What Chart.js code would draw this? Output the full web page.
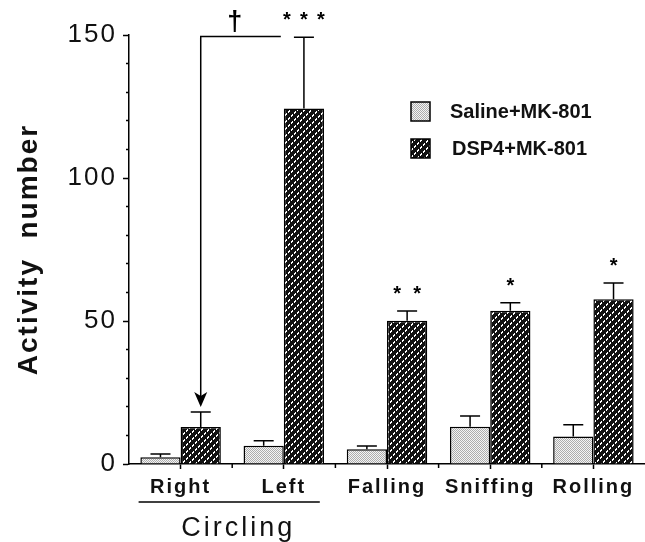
<!DOCTYPE html>
<html>
<head>
<meta charset="utf-8">
<script src="https://cdn.jsdelivr.net/npm/chart.js@4/dist/chart.umd.min.js"></script>
<style>
html,body{margin:0;padding:0;background:#fff;}
#wrap{width:645px;height:542px;position:relative;}
</style>
</head>
<body>
<div id="wrap"><canvas id="c" width="645" height="542"></canvas></div>
<script>
const categories = ['Right', 'Left', 'Falling', 'Sniffing', 'Rolling'];
const groupLabel = 'Circling';
const seriesNames = ['Saline+MK-801', 'DSP4+MK-801'];
const salineValues = [2.4, 6.4, 5.2, 13.0, 9.6];
const salineErrors = [1.1, 1.7, 1.1, 3.8, 4.1];
const dsp4Values = [12.9, 124.3, 50.1, 53.6, 57.6];
const dsp4Errors = [5.3, 24.9, 3.4, 2.8, 5.7];
const yTickLabels = [0, 50, 100, 150];
const significance = ['', '***', '**', '*', '*'];
const bracketSymbol = '\u2020';
const bracketLevel = 149.5;
const yTitle = 'Activity  number';

const FONT = '"Liberation Sans", Arial, Helvetica, sans-serif';

function makeStipple() {
  const c = document.createElement('canvas');
  c.width = c.height = 4;
  const g = c.getContext('2d');
  for (let i = 0; i < 4; i++) for (let j = 0; j < 4; j++) {
    g.fillStyle = ((i + j) % 2 === 0) ? '#acacac' : '#f4f4f4';
    g.fillRect(i, j, 1, 1);
  }
  return g.createPattern(c, 'repeat');
}
function makeHatch() {
  const s = 21;
  const c = document.createElement('canvas');
  c.width = c.height = s;
  const g = c.getContext('2d');
  g.fillStyle = '#111';
  g.fillRect(0, 0, s, s);
  g.fillStyle = '#fff';
  for (let i = 0; i < s; i++) for (let j = 0; j < s; j++) {
    const d = (i + j) % 7;
    if ((d === 0 || d === 1) && (i % 3 !== 2)) g.fillRect(i, j, 1, 1);
  }
  return g.createPattern(c, 'repeat');
}
const stipple = makeStipple();
const hatch = makeHatch();

const spacingPlugin = {
  id: 'spacing',
  beforeDraw(chart) { chart.ctx.letterSpacing = '2px'; }
};

const annotPlugin = {
  id: 'annot',
  afterDraw(chart) {
    const ctx = chart.ctx;
    const ys = chart.scales.y, xs = chart.scales.x;
    const m0 = chart.getDatasetMeta(0), m1 = chart.getDatasetMeta(1);
    const bottom = chart.chartArea.bottom;
    ctx.save();
    ctx.letterSpacing = '0px';
    ctx.strokeStyle = '#000';
    ctx.fillStyle = '#000';
    ctx.lineWidth = 1.5;
    ctx.lineCap = 'butt';

    // error bars (upper only)
    [[m0, salineValues, salineErrors], [m1, dsp4Values, dsp4Errors]].forEach(([m, vals, errs]) => {
      m.data.forEach((bar, i) => {
        const top = ys.getPixelForValue(vals[i]);
        const et = ys.getPixelForValue(vals[i] + errs[i]);
        ctx.beginPath();
        ctx.moveTo(bar.x, top);
        ctx.lineTo(bar.x, et);
        ctx.moveTo(bar.x - 10, et);
        ctx.lineTo(bar.x + 10, et);
        ctx.stroke();
      });
    });

    // small ticks between categories
    for (let i = 0; i < categories.length - 1; i++) {
      const xm = (xs.getPixelForValue(i) + xs.getPixelForValue(i + 1)) / 2;
      ctx.beginPath();
      ctx.moveTo(xm, bottom);
      ctx.lineTo(xm, bottom + 4);
      ctx.stroke();
    }

    // significance stars
    ctx.font = 'bold 20px ' + FONT;
    ctx.textAlign = 'center';
    ctx.textBaseline = 'alphabetic';
    significance.forEach((s, i) => {
      if (!s) return;
      const bar = m1.data[i];
      const et = ys.getPixelForValue(dsp4Values[i] + dsp4Errors[i]);
      const n = s.length;
      const sp = n > 2 ? 17 : 20;
      for (let k = 0; k < n; k++) {
        ctx.fillText('*', bar.x + (k - (n - 1) / 2) * sp, et - 11);
      }
    });

    // bracket with arrow
    const bx = m1.data[0].x;
    const by = ys.getPixelForValue(bracketLevel);
    const ex = m0.data[1].x + m0.data[1].width / 2 - 3;
    const tip = ys.getPixelForValue(dsp4Values[0] + dsp4Errors[0]) - 5;
    ctx.beginPath();
    ctx.moveTo(ex, by);
    ctx.lineTo(bx, by);
    ctx.lineTo(bx, tip - 11);
    ctx.stroke();
    ctx.beginPath();
    ctx.moveTo(bx, tip);
    ctx.lineTo(bx - 6.5, tip - 15);
    ctx.lineTo(bx, tip - 11);
    ctx.lineTo(bx + 6.5, tip - 15);
    ctx.closePath();
    ctx.fill();
    ctx.font = 'bold 27px ' + FONT;
    ctx.fillText(bracketSymbol, (bx + ex) / 2 - 6, by - 6);

    // legend
    const lx = 411, ly = [102, 139], bs = 19;
    [stipple, hatch].forEach((p, i) => {
      ctx.fillStyle = p;
      ctx.fillRect(lx, ly[i], bs, bs);
      ctx.strokeRect(lx, ly[i], bs, bs);
    });
    ctx.fillStyle = '#111';
    ctx.font = 'bold 20px ' + FONT;
    ctx.textAlign = 'left';
    ctx.textBaseline = 'middle';
    ctx.fillText(seriesNames[0], 450, ly[0] + 10);
    ctx.fillText(seriesNames[1], 452, ly[1] + 10);

    // group label
    const c0 = xs.getPixelForValue(0), c1 = xs.getPixelForValue(1);
    ctx.beginPath();
    ctx.moveTo(c0 - 42, bottom + 38);
    ctx.lineTo(c1 + 36, bottom + 38);
    ctx.stroke();
    ctx.letterSpacing = '3px';
    ctx.font = '27px ' + FONT;
    ctx.textAlign = 'center';
    ctx.textBaseline = 'alphabetic';
    ctx.fillText(groupLabel, (c0 + c1) / 2 + 6, bottom + 72);
    ctx.restore();
  }
};

new Chart(document.getElementById('c'), {
  type: 'bar',
  data: {
    labels: categories,
    datasets: [
      { label: seriesNames[0], data: salineValues, backgroundColor: stipple, borderColor: '#000', borderWidth: 1.5 },
      { label: seriesNames[1], data: dsp4Values, backgroundColor: hatch, borderColor: '#000', borderWidth: 1.5 }
    ]
  },
  options: {
    responsive: false,
    animation: false,
    devicePixelRatio: 1,
    layout: { padding: { top: 35, right: 0, bottom: 0, left: 0 } },
    datasets: { bar: { categoryPercentage: 0.78, barPercentage: 1 } },
    plugins: { legend: { display: false }, tooltip: { enabled: false } },
    scales: {
      x: {
        offset: true,
        grid: { display: true, drawOnChartArea: false, drawTicks: true, tickLength: 5, offset: false, tickColor: '#000', tickWidth: 1.5 },
        border: { display: true, color: '#000', width: 1.5 },
        ticks: { color: '#111', font: { family: FONT, size: 20, weight: 'bold' }, padding: 6, maxRotation: 0, autoSkip: false },
        afterFit(s) { s.height = 78; }
      },
      y: {
        min: 0, max: 150,
        ticks: {
          stepSize: 10, autoSkip: false,
          callback: v => yTickLabels.includes(v) ? String(v) : '',
          color: '#111', font: { family: FONT, size: 26 }, padding: 6
        },
        grid: {
          drawOnChartArea: false, tickLength: 6, tickColor: '#000', tickWidth: 1.5,
          tickBorderDash: c => (c.tick && yTickLabels.includes(c.tick.value)) ? [] : [0, 3, 3, 100]
        },
        border: { display: true, color: '#000', width: 1.5 },
        title: { display: true, text: yTitle, color: '#111', font: { family: FONT, size: 28, weight: 'bold' }, padding: { top: 12, bottom: 0 } },
        afterFit(s) { s.width = 129; }
      }
    }
  },
  plugins: [spacingPlugin, annotPlugin]
});
</script>
</body>
</html>
